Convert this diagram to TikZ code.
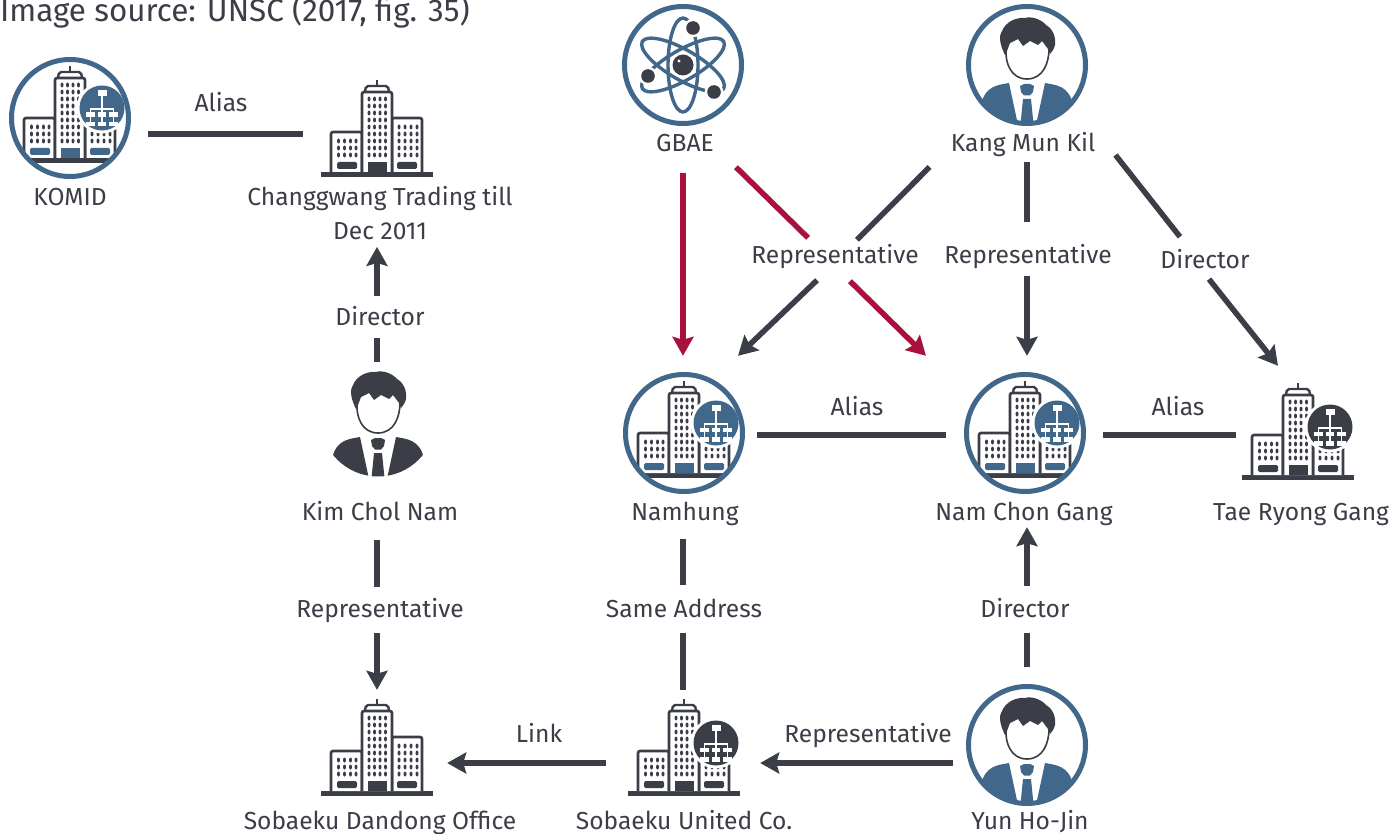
\documentclass[tikz,border=0pt]{standalone}
\usepackage{fontspec}
\setmainfont{Fira Sans}
\usetikzlibrary{arrows.meta,calc}
\definecolor{darkC}{HTML}{3B3D47}
\definecolor{blueC}{HTML}{41678A}
\definecolor{redC}{HTML}{A9113C}
\newcommand\BuildingBody[1]{%
  \fill[darkC] (-56,0) rectangle (56,5);
  \draw[darkC,line width=2.6pt,fill=white,rounded corners=2pt] (-46,0) -- (-46,-40) -- (-15,-40) -- (-15,0);
  \draw[darkC,line width=2.6pt,fill=white,rounded corners=2pt] (45,0) -- (45,-54) -- (15,-54) -- (15,0);
  \draw[darkC,line width=2.6pt,fill=white,rounded corners=2pt] (-15,0) -- (-15,-80) -- (15,-80) -- (15,0);
  \draw[darkC,line width=2.4pt,rounded corners=2pt] (-12,-80) -- (-11,-86) -- (11,-86) -- (12,-80);
  \draw[darkC,line width=2.4pt] (0,-86) -- (0,-92);
  \foreach \u in {-8,-2.5,3,8.5}{\foreach \v in {-73,-66,...,-17}{\fill[darkC] (\u,\v) circle[x radius=1.5pt,y radius=2.5pt];}}
  \foreach \u in {-38.5,-32.5,-26.5,-21}{\foreach \v in {-31,-24,-17}{\fill[darkC] (\u,\v) circle[x radius=1.5pt,y radius=2.5pt];}}
  \foreach \u in {22,28,34,40}{\foreach \v in {-45,-38,-31,-24,-17}{\fill[darkC] (\u,\v) circle[x radius=1.5pt,y radius=2.5pt];}}
  \fill[#1,rounded corners=1.5pt] (-40,-10) rectangle (-20,-3);
  \fill[#1] (-9.5,-10) rectangle (9.5,0);
  \fill[#1,rounded corners=1.5pt] (20,-10) rectangle (40,-3);
}
\newcommand\OrgBadge[1]{%
  \fill[white] (0,0) circle (25.5pt);
  \fill[#1] (0,0) circle (22.5pt);
  \draw[white,line width=1.8pt] (0,-14) -- (0,1) (-11.5,7) -- (-11.5,1) -- (11.5,1) -- (11.5,7) (0,1) -- (0,7) (-11.5,7) -- (-11.5,15) (0,7) -- (0,15) (11.5,7) -- (11.5,15);
  \fill[white] (-4.5,-18) rectangle (4.5,-12);
  \foreach \u in {-11.5,0,11.5}{\fill[white] (\u-4.2,4.5) rectangle (\u+4.2,9); \fill[white] (\u-4.2,14) rectangle (\u+4.2,18.5);}
}
\newcommand\PersonBody[1]{%
  \begin{scope}
    \clip (0,-14) circle (57.5pt);
    \fill[#1] (-18,4) .. controls (-28,6) and (-42,6) .. (-46,26) -- (-46,60) -- (-6,60) -- cycle;
    \fill[#1] (18,4) .. controls (28,6) and (42,6) .. (46,26) -- (46,60) -- (6,60) -- cycle;
    \fill[#1] (-4,20) -- (4,20) -- (8,60) -- (-8,60) -- cycle;
    \fill[#1] (-7,7) -- (-3,5) -- (3,5) -- (7,7) -- (6,13) -- (3,16.5) -- (-3,16.5) -- (-6,13) -- cycle;
  \end{scope}
  \draw[darkC,line width=1.6pt] (-21,-30) .. controls (-22,-16) and (-16,0) .. (0,0) .. controls (16,0) and (22,-16) .. (22,-30);
  \fill[darkC] (-22,-24) .. controls (-28,-36) and (-28,-44) .. (-25,-48) .. controls (-22,-56) and (-12,-62) .. (-2,-61)
    .. controls (4,-63) and (14,-60) .. (19,-54) .. controls (26,-50) and (29,-42) .. (28,-34) .. controls (27,-30) and (25,-27) .. (23,-25)
    -- (21,-30) -- (15,-38) -- (11,-34) -- (3,-38) -- (-4,-33) -- (-9,-40) -- (-17,-36) -- (-20,-28) -- cycle;
}
\tikzset{
  lbl/.style={inner sep=0pt,minimum height=24pt,text=darkC,font=\fontsize{24.6}{34}\selectfont,text height=20pt,text depth=2pt},
  iconspot/.style={inner sep=0pt,minimum size=120pt},
  ring/.style={draw=blueC,line width=5pt},
  dline/.style={draw=darkC,line width=5.5pt},
  darrow/.style={dline,-{Stealth[length=19pt,width=21pt,inset=3pt]}},
  rline/.style={draw=redC,line width=5.5pt},
  rarrow/.style={rline,-{Stealth[length=19pt,width=21pt,inset=3pt]}},
  pics/tower/.style={code={\BuildingBody{#1}}},
  pics/orgbadge/.style={code={\OrgBadge{#1}}},
  pics/person/.style={code={\PersonBody{#1}}},
  pics/ringtower/.style={code={
    \begin{scope}\clip (0,0) circle (58pt);
      \pic at (0,40) {tower=blueC};
      \pic at (32,-10) {orgbadge=blueC};
    \end{scope}
    \draw[ring] (0,0) circle (58.5pt);}},
  pics/badgetower/.style={code={
    \pic at (0,0) {tower=darkC};
    \pic at (32,-48) {orgbadge=darkC};}},
  pics/ringperson/.style={code={
    \pic at (0,14) {person=blueC};
    \draw[ring] (0,0) circle (58.5pt);}},
  pics/atom/.style={code={
    \draw[ring] (0,0) circle (58.5pt);
    \begin{scope}[draw=blueC,line width=3.4pt]
      \draw (0,0) circle[x radius=15pt,y radius=47pt];
      \draw (0,0) circle[x radius=47pt,y radius=15pt,rotate=30];
      \draw (0,0) circle[x radius=47pt,y radius=15pt,rotate=-30];
    \end{scope}
    \foreach \p/\r in {{(0,0)}/10.5,{(10,-37)}/6.8,{(-35,11)}/6.8,{(31,27)}/6.8}{
      \fill[white] \p circle (\r pt+2.5pt);
      \fill[darkC] \p circle (\r pt);}
    \fill[white] (-4,-4) circle (1.7pt);}}
}
\begin{document}
\begin{tikzpicture}[x=1pt,y=-1pt]
\useasboundingbox (0,0) rectangle (1400,834);
% icons
\node[iconspot] (komidI) at (70,118) {};
\pic at (70,118) {ringtower};
\node[iconspot] (chI) at (377,130) {};
\pic at (377,172) {tower=darkC};
\node[iconspot] (gbaeI) at (683,65) {};
\pic at (683,65) {atom};
\node[iconspot] (kangI) at (1027,65) {};
\pic at (1027,65) {ringperson};
\node[iconspot] (kimI) at (378,425) {};
\pic at (378,433) {person=darkC};
\node[iconspot] (namI) at (684,433) {};
\pic at (684,433) {ringtower};
\node[iconspot] (ncgI) at (1025,433) {};
\pic at (1025,433) {ringtower};
\node[iconspot] (taeI) at (1298,433) {};
\pic at (1298,475) {badgetower};
\node[iconspot] (dandI) at (377,745) {};
\pic at (377,791) {tower=darkC};
\node[iconspot] (unitedI) at (684,745) {};
\pic at (684,791) {badgetower};
\node[iconspot] (yunI) at (1027,745) {};
\pic at (1027,745) {ringperson};
% texts
\node[inner sep=0pt,text=darkC,font=\fontsize{31.4}{34}\selectfont,anchor=west] (src) at (0,12) {Image source: UNSC (2017, fig. 35)};
\node[lbl] (komid) at (70,197) {KOMID};
\node[text=darkC,inner sep=0pt,align=center,font=\fontsize{24.6}{34}\selectfont] (ch) at (380,213) {Changgwang Trading till\\Dec 2011};
\node[lbl] (gbae) at (685,143) {GBAE};
\node[lbl] (kang) at (1023,143) {Kang Mun Kil};
\node[lbl] (kim) at (380,511) {Kim Chol Nam};
\node[lbl] (nam) at (685,511) {Namhung};
\node[lbl] (ncg) at (1024,511) {Nam Chon Gang};
\node[lbl] (tae) at (1301,511) {Tae Ryong Gang};
\node[lbl] (dand) at (380,820) {Sobaeku Dandong Office};
\node[lbl] (united) at (684,820) {Sobaeku United Co.};
\node[lbl] (yun) at (1030,820) {Yun Ho-Jin};
\node[lbl] (alias1) at (221,103) {Alias};
\node[lbl] (alias2) at (857,406) {Alias};
\node[lbl] (alias3) at (1178,406) {Alias};
\node[lbl] (dir1) at (380,316) {Director};
\node[lbl] (dir2) at (1025,608) {Director};
\node[lbl] (dir3) at (1205,260) {Director};
\node[lbl] (rep1) at (380,608) {Representative};
\node[lbl] (rep2) at (835,255) {Representative};
\node[lbl] (rep3) at (1028,255) {Representative};
\node[lbl] (rep4) at (868,733) {Representative};
\node[lbl] (same) at (684,608) {Same Address};
\node[lbl] (link) at (539,733) {Link};
% connectors
\draw[dline] ($(komidI.east)+(18,16)$) -- ($(chI.west)+(-14,4)$);
\draw[darrow] ($(dir1.north)+(-3,-8)$) -- ($(ch.south)+(-3,7)$);
\draw[dline] ($(kimI.north)+(-1,-3)$) -- ($(dir1.south)+(-3,10)$);
\draw[dline] ($(kim.south)+(-3,17)$) -- ($(rep1.north)+(-3,-9)$);
\draw[darrow] ($(rep1.south)+(-3,13)$) -- ($(dandI.north)+(0,5)$);
\draw[darrow] ($(unitedI.west)+(-18,18)$) -- ($(dandI.east)+(10,18)$);
\draw[darrow] ($(yunI.west)+(-14,18)$) -- ($(unitedI.east)+(16,18)$);
\draw[dline] ($(nam.south)+(-2,16)$) -- ($(same.north)+(-1,-11)$);
\draw[dline] ($(same.south)+(-1,13)$) -- ($(unitedI.north)+(-1,5)$);
\draw[dline] ($(yunI.north)+(0,-18)$) -- ($(dir2.south)+(2,13)$);
\draw[darrow] ($(dir2.north)+(2,-10)$) -- ($(ncg.south)+(3,4)$);
\draw[dline] ($(namI.east)+(13,2)$) -- ($(ncgI.west)+(-19,2)$);
\draw[dline] ($(ncgI.east)+(18,2)$) -- ($(taeI.west)+(-2,2)$);
\draw[rarrow] ($(gbae.south)+(-2,18)$) -- ($(namI.north)+(-1,-17)$);
\draw[rline] ($(gbae.south east)+(22,12)$) -- ($(rep2.north)+(-27,-5)$);
\draw[rarrow] ($(rep2.south)+(15,14)$) -- ($(ncgI.north)+(-99,-17)$);
\draw[dline] ($(kang.west)+(-21,24)$) -- ($(rep2.north)+(22,-3)$);
\draw[darrow] ($(rep2.south)+(-18,13)$) -- ($(namI.north)+(54,-17)$);
\draw[dline] ($(kang.south)+(4,7)$) -- ($(rep3.north)+(-1,-21)$);
\draw[darrow] ($(rep3.south)+(-1,9)$) -- ($(ncgI.north)+(2,-17)$);
\draw[dline] ($(kang.east)+(20,12)$) -- ($(dir3.north)+(-25,-11)$);
\draw[darrow] ($(dir3.south)+(4,7)$) -- ($(taeI.north)+(-20,-7)$);
\end{tikzpicture}
\end{document}
